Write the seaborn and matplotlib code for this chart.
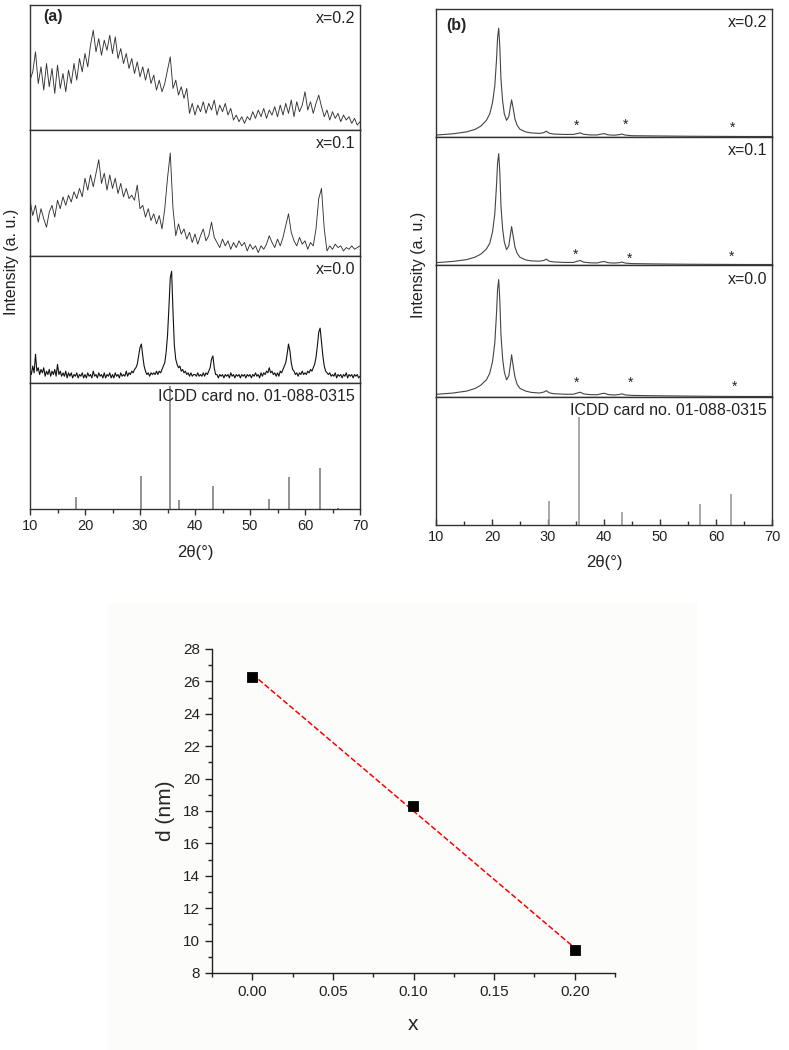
import numpy as np
import matplotlib
matplotlib.use('Agg')
import matplotlib.pyplot as plt
import seaborn as sns
from matplotlib.ticker import MultipleLocator, FormatStrFormatter
from matplotlib.patches import Rectangle

# ---- (a) XRD patterns (arbitrary units) ----
int_a02 = [150, 175, 235, 140, 190, 120, 200, 130, 185, 110,
           195, 125, 170, 115, 180, 140, 200, 150, 215, 175,
           230, 190, 255, 300, 235, 275, 225, 270, 240, 285,
           230, 280, 215, 245, 200, 230, 185, 215, 170, 205,
           160, 190, 150, 185, 140, 165, 120, 150, 115, 140,
           180, 220, 125, 150, 105, 130, 95, 125, 50, 80,
           45, 75, 55, 85, 50, 80, 60, 90, 45, 75,
           55, 80, 45, 65, 30, 45, 25, 40, 20, 40,
           30, 55, 35, 60, 40, 65, 35, 60, 45, 70,
           40, 75, 45, 80, 50, 90, 40, 85, 55, 75,
           115, 60, 85, 50, 80, 105, 70, 40, 60, 30,
           55, 35, 50, 25, 45, 30, 40, 20, 35, 15,
           25]

int_a01 = [165, 120, 150, 100, 140, 110, 85, 130, 150, 115,
           165, 140, 175, 150, 180, 160, 190, 170, 200, 175,
           230, 195, 240, 205, 245, 285, 215, 245, 195, 240,
           200, 230, 185, 215, 175, 200, 170, 180, 165, 210,
           140, 150, 115, 140, 105, 125, 95, 120, 80, 140,
           230, 305, 140, 60, 95, 65, 80, 50, 70, 40,
           65, 35, 60, 80, 45, 60, 100, 55, 40, 25,
           50, 30, 45, 20, 40, 25, 45, 30, 40, 15,
           35, 20, 30, 10, 30, 20, 35, 60, 40, 25,
           50, 30, 55, 90, 125, 70, 45, 30, 55, 35,
           45, 20, 40, 30, 80, 170, 200, 80, 15, 30,
           20, 35, 25, 30, 15, 25, 20, 30, 20, 25,
           30]

int_a00 = [40, 25, 50, 30, 85, 35, 45, 25, 40, 30, 45, 20, 35, 25, 40, 20, 35, 25, 40, 20,
           55, 25, 35, 20, 30, 20, 35, 15, 30, 20, 30, 15, 25, 20, 30, 15, 25, 20, 30, 15,
           25, 15, 30, 20, 25, 15, 35, 20, 25, 15, 30, 20, 25, 15, 30, 15, 25, 20, 30, 15,
           25, 15, 30, 20, 25, 15, 30, 20, 25, 20, 35, 20, 30, 25, 35, 30, 40, 45, 55, 80,
           105, 115, 80, 50, 35, 25, 30, 20, 30, 25, 30, 25, 35, 25, 35, 30, 40, 50, 60, 90,
           140, 220, 310, 330, 210, 110, 70, 55, 45, 50, 35, 40, 30, 35, 25, 30, 20, 30, 20, 25,
           25, 20, 30, 20, 25, 20, 30, 20, 30, 25, 35, 45, 70, 80, 45, 25, 25, 15, 25, 20,
           25, 15, 25, 20, 25, 15, 30, 20, 25, 15, 25, 20, 25, 15, 25, 20, 25, 15, 25, 20,
           25, 15, 25, 20, 30, 20, 25, 15, 30, 20, 30, 25, 35, 30, 45, 30, 35, 25, 30, 20,
           30, 20, 35, 30, 40, 50, 60, 85, 115, 95, 60, 40, 35, 25, 30, 20, 30, 25, 35, 25,
           30, 25, 35, 30, 40, 35, 45, 55, 75, 110, 150, 162, 120, 80, 50, 35, 30, 25, 30, 20,
           25, 20, 30, 15, 25, 20, 25, 15, 25, 20, 30, 15, 25, 20, 25, 15, 25, 20, 25, 15,
           20]

icdd_a_theta = [18.3, 30.2, 35.45, 37.1, 43.2, 53.5, 57.1, 62.7, 66.0]
icdd_a_int = [35, 100, 367, 27, 69, 29, 95, 122, 4]

# ---- (b) XRD patterns (percent of panel height) ----
theta_b = [10, 13, 15.5, 17, 18, 19, 19.6, 20.1, 20.5, 20.8,
           21.0, 21.2, 21.4, 21.6, 21.9, 22.2, 22.6, 23.0, 23.3, 23.5,
           23.8, 24.1, 24.5, 25.0, 26, 27, 28.5, 29.3, 29.7, 30.2,
           31, 33, 34.5, 35.3, 35.8, 36.3, 37.5, 38.8, 39.6, 40.1,
           40.7, 41.8, 42.7, 43.2, 43.8, 45, 50, 55, 60, 65, 70]
int_b02 = [1.5, 2.5, 4, 6, 8.5, 13, 18, 27, 40, 60,
           78, 85, 70, 45, 28, 18, 13, 16, 24, 29,
           22, 14, 9, 6, 4, 3.2, 2.8, 3.5, 4.5, 3,
           2.3, 2, 2, 2.8, 3.2, 2.2, 1.6, 1.6, 2.4, 2.6,
           1.7, 1.4, 1.8, 2.3, 1.5, 1.0, 0.8, 0.6, 0.5, 0.4, 0.4]
int_b01 = [1.8, 2.8, 4.2, 6.2, 8.5, 12.5, 17, 26, 40, 62,
           80, 87, 72, 46, 28, 18, 12, 15, 24, 30,
           22, 14, 9, 6, 4, 3.2, 3, 3.6, 4.6, 3,
           2.4, 2, 2, 3, 3.5, 2.3, 1.7, 1.6, 2.5, 2.7,
           1.8, 1.5, 1.8, 2.3, 1.5, 1.1, 0.8, 0.6, 0.5, 0.4, 0.4]
int_b00 = [2, 3, 4.5, 6.5, 9, 13, 18, 27, 41, 63,
           82, 89, 73, 47, 29, 19, 13, 16, 25, 32,
           23, 15, 9.5, 6.5, 4.5, 3.5, 3, 3.8, 4.8, 3.2,
           2.5, 2.1, 2.1, 3.1, 3.6, 2.4, 1.8, 1.7, 2.6, 2.8,
           1.9, 1.5, 1.9, 2.4, 1.6, 1.2, 0.9, 0.7, 0.5, 0.4, 0.4]

star_theta_b02 = [35.1, 43.8, 62.9]
star_int_b02 = [9, 9.6, 7]
star_theta_b01 = [35.0, 44.6, 62.8]
star_int_b01 = [7.9, 5, 6.3]
star_theta_b00 = [35.1, 44.7, 63.3]
star_int_b00 = [11, 10.4, 7.8]

icdd_b_theta = [30.15, 35.6, 43.15, 57.2, 62.7]
icdd_b_int = [72, 327, 38, 63, 94]

# ---- crystallite size vs x ----
x_vals = [0.0, 0.1, 0.2]
d_vals = [26.3, 18.3, 9.4]

sns.set_style('white')
plt.rcParams['font.family'] = ['Liberation Sans', 'DejaVu Sans']

W, H = 789, 1050
fig = plt.figure(figsize=(W / 100, H / 100), dpi=100)


def box(l, t, r, b):
    return fig.add_axes([l / W, 1 - b / H, (r - l) / W, (b - t) / H])


# faint backdrop behind the lower plot
fig.patches.append(Rectangle((108 / W, 0), (696 - 108) / W, 1 - 603 / H,
                             transform=fig.transFigure, color='#fcfcfa', zorder=-5))

theta_a = np.linspace(10, 70, len(int_a02))
theta_a0 = np.linspace(10, 70, len(int_a00))

a_rows = [(5, 130), (130, 256), (256, 383), (383, 509)]
b_rows = [(9, 137), (137, 265), (265, 397), (397, 525)]

ax_a = [box(30, t, 360, b) for t, b in a_rows]
ax_b = [box(436, t, 772, b) for t, b in b_rows]

for ax in ax_a + ax_b:
    ax.set_xlim(10, 70)
    ax.set_yticks([])
    ax.set_xticks([])
    for s in ax.spines.values():
        s.set_visible(True)
        s.set_color('#333333')
        s.set_linewidth(1.0)

# panel (a)
sns.lineplot(x=theta_a, y=int_a02, ax=ax_a[0], color='#333333', lw=0.65)
sns.lineplot(x=theta_a, y=int_a01, ax=ax_a[1], color='#333333', lw=0.65)
sns.lineplot(x=theta_a0, y=int_a00, ax=ax_a[2], color='#111111', lw=0.8)
ax_a[3].vlines(icdd_a_theta, 0, icdd_a_int, color='#8a8a8a', lw=1.3)
for ax, top in zip(ax_a, [376, 373, 375, 377]):
    ax.set_ylim(0, top)
    ax.set_xlabel('')
    ax.set_ylabel('')

# panel (b)
sns.lineplot(x=theta_b, y=int_b02, ax=ax_b[0], color='#444444', lw=0.8)
sns.lineplot(x=theta_b, y=int_b01, ax=ax_b[1], color='#444444', lw=0.8)
sns.lineplot(x=theta_b, y=int_b00, ax=ax_b[2], color='#444444', lw=0.8)
for ax, st, si in zip(ax_b[:3], [star_theta_b02, star_theta_b01, star_theta_b00],
                      [star_int_b02, star_int_b01, star_int_b00]):
    for t, i in zip(st, si):
        ax.text(t, i, '*', ha='center', va='center', fontsize=10, color='#222222')
ax_b[3].vlines(icdd_b_theta, 0, icdd_b_int, color='#9a9a9a', lw=1.2)
for ax in ax_b[:3]:
    ax.set_ylim(0, 100)
    ax.set_xlabel('')
    ax.set_ylabel('')
ax_b[3].set_ylim(0, 387)

labels = ['x=0.2', 'x=0.1', 'x=0.0', 'ICDD card no. 01-088-0315']
for axs in (ax_a, ax_b):
    for ax, lab in zip(axs, labels):
        ax.text(0.985, 0.95, lab, transform=ax.transAxes, ha='right', va='top',
                fontsize=11.5, color='#222222')

ax_a[0].text(0.04, 0.97, '(a)', transform=ax_a[0].transAxes, ha='left', va='top',
             fontsize=11.5, fontweight='bold')
ax_b[0].text(0.03, 0.93, '(b)', transform=ax_b[0].transAxes, ha='left', va='top',
             fontsize=11.5, fontweight='bold')

for ax, direction in ((ax_a[3], 'out'), (ax_b[3], 'in')):
    ax.xaxis.set_major_locator(MultipleLocator(10))
    ax.xaxis.set_minor_locator(MultipleLocator(5))
    ax.tick_params(axis='x', which='both', bottom=True, direction=direction,
                   labelsize=10.5, color='#333333', labelcolor='#222222')
    ax.tick_params(axis='x', which='major', length=4, width=1)
    ax.tick_params(axis='x', which='minor', length=3, width=1)
    ax.set_xlabel('2θ(°)', fontsize=12, color='#222222', labelpad=8)

fig.text(12 / W, 1 - 262 / H, 'Intensity (a. u.)', rotation=90, ha='center',
         va='center', fontsize=11.5, color='#222222')
fig.text(419 / W, 1 - 265 / H, 'Intensity (a. u.)', rotation=90, ha='center',
         va='center', fontsize=11.5, color='#222222')

# lower plot: d vs x with linear fit
ax_d = box(212, 649, 615, 973)
ax_d.set_facecolor('none')
sns.regplot(x=x_vals, y=d_vals, ax=ax_d, scatter=False, ci=None,
            line_kws=dict(color='red', ls='--', lw=1.1))
sns.scatterplot(x=x_vals, y=d_vals, ax=ax_d, marker='s', s=55, color='black',
                edgecolor='black', zorder=3)
ax_d.set_xlim(-0.025, 0.225)
ax_d.set_ylim(8, 28)
ax_d.xaxis.set_major_locator(MultipleLocator(0.05))
ax_d.xaxis.set_minor_locator(MultipleLocator(0.025))
ax_d.yaxis.set_major_locator(MultipleLocator(2))
ax_d.yaxis.set_minor_locator(MultipleLocator(1))
ax_d.xaxis.set_major_formatter(FormatStrFormatter('%.2f'))
sns.despine(ax=ax_d)
for s in ('left', 'bottom'):
    ax_d.spines[s].set_color('#222222')
    ax_d.spines[s].set_linewidth(1.0)
ax_d.tick_params(which='both', direction='out', bottom=True, left=True,
                 labelsize=11, color='#222222', labelcolor='#222222')
ax_d.tick_params(which='major', length=5, width=1)
ax_d.tick_params(which='minor', length=3, width=1)
ax_d.set_xlabel('x', fontsize=15, labelpad=12)
ax_d.set_ylabel('d (nm)', fontsize=15, labelpad=6)

fig.savefig('out.png', dpi=100)
